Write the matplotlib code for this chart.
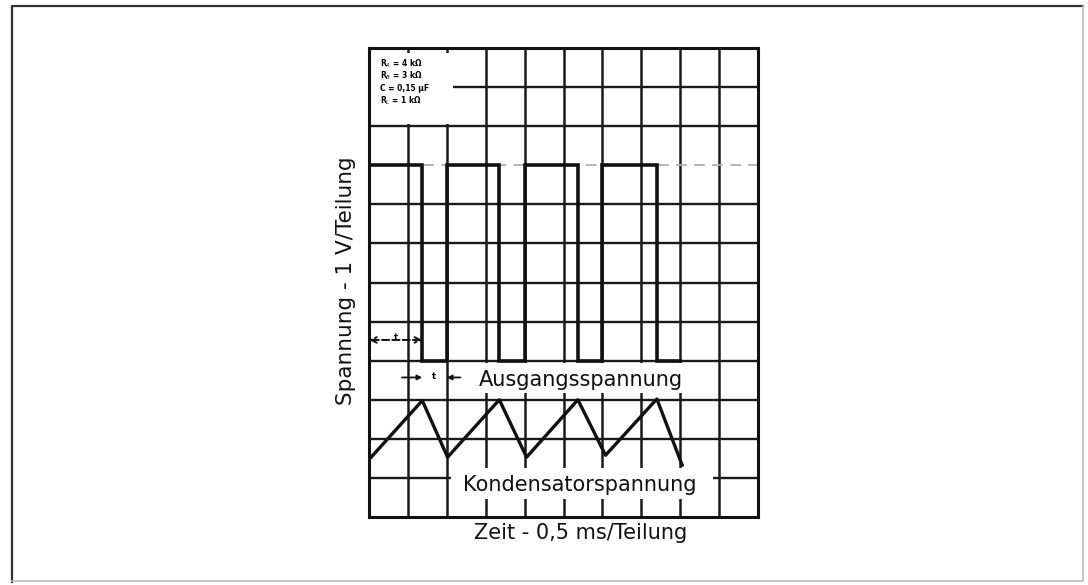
import matplotlib
matplotlib.use("Agg")
import matplotlib.pyplot as plt
from matplotlib.patches import Rectangle

# ---- data (divisions: x = 0.5 ms/div, y = 1 V/div) ----
out_t = [0.0, 1.37, 1.37, 2.0, 2.0, 3.35, 3.35, 4.0, 4.0, 5.37, 5.37, 6.0, 6.0, 7.40, 7.40, 8.0]
out_v = [9.0, 9.0, 4.0, 4.0, 9.0, 9.0, 4.0, 4.0, 9.0, 9.0, 4.0, 4.0, 9.0, 9.0, 4.0, 4.0]
cap_t = [0.0, 1.37, 2.02, 3.35, 4.05, 5.37, 6.08, 7.40, 8.05]
cap_v = [1.47, 2.98, 1.53, 3.0, 1.53, 3.0, 1.58, 3.02, 1.33]
params = ["R$_A$ = 4 kΩ", "R$_B$ = 3 kΩ", "C = 0,15 µF", "R$_L$ = 1 kΩ"]
x_divs = list(range(0, 11))
y_divs = list(range(0, 13))
xlabel = "Zeit - 0,5 ms/Teilung"
ylabel = "Spannung - 1 V/Teilung"
lbl_out = "Ausgangsspannung"
lbl_cap = "Kondensatorspannung"

plt.rcParams['font.family'] = ['DejaVu Sans']
fig = plt.figure(figsize=(10.88, 5.85), dpi=100)

# outer frame
frame = fig.add_axes([0, 0, 1, 1])
frame.set_xlim(0, 1088); frame.set_ylim(585, 0); frame.axis('off')
frame.plot([12, 12, 1083], [582, 6, 6], color='#333333', lw=1.6)
frame.plot([1083, 1083, 12], [6, 581, 581], color='#bbbbbb', lw=1.2)

ax = fig.add_axes([369/1088, 1-517/585, (758-369)/1088, (517-48)/585])
ax.set_xlim(0, 10); ax.set_ylim(0, 12)
ax.set_xticks([]); ax.set_yticks([])
for s in ax.spines.values():
    s.set_linewidth(2.2); s.set_color('#111111')

# grid
for x in x_divs[1:-1]:
    ax.axvline(x, color='#1a1a1a', lw=1.8, zorder=1)
for y in y_divs[1:-1]:
    if y == 9:
        ax.axhline(y, color='#b0b0b0', lw=1.3, ls=(0, (6, 4)), zorder=1)
    else:
        ax.axhline(y, color='#1a1a1a', lw=1.7, zorder=1)

# white masks (label boxes)
ax.add_patch(Rectangle((0.03, 10.05), 2.12, 1.83, facecolor='white', edgecolor='none', zorder=2))
ax.add_patch(Rectangle((2.15, 3.17), 6.35, 0.78, facecolor='white', edgecolor='none', zorder=2))
ax.add_patch(Rectangle((2.12, 0.45), 6.72, 0.80, facecolor='white', edgecolor='none', zorder=2))

# waves
ax.plot(out_t, out_v, color='#111111', lw=2.6, zorder=3, solid_joinstyle='miter')
ax.plot(cap_t, cap_v, color='#111111', lw=2.4, zorder=3)

# parameter text
for i, p in enumerate(params):
    ax.text(0.28, 11.6 - i * 0.32, p, fontsize=5.5, fontweight='bold', va='center', ha='left', zorder=4)

# t1 / t2 annotations
ax.annotate('', xy=(0.0, 4.53), xytext=(1.37, 4.53),
            arrowprops=dict(arrowstyle='<->', lw=1.4, ls='--', color='#111111', shrinkA=0, shrinkB=0), zorder=4)
ax.text(0.68, 4.6, 't', fontsize=6, ha='center', va='center', fontweight='bold', zorder=5)
ax.annotate('', xy=(1.37, 3.57), xytext=(0.85, 3.57),
            arrowprops=dict(arrowstyle='-|>', lw=1.3, color='#111111', shrinkA=0, shrinkB=0, mutation_scale=7), zorder=4)
ax.annotate('', xy=(2.0, 3.57), xytext=(2.35, 3.57),
            arrowprops=dict(arrowstyle='-|>', lw=1.3, color='#111111', shrinkA=0, shrinkB=0, mutation_scale=7), zorder=4)
ax.text(1.68, 3.6, 't', fontsize=6, ha='center', va='center', fontweight='bold', zorder=5)

ax.text(5.45, 3.5, lbl_out, fontsize=15, ha='center', va='center', color='#111111', zorder=5)
ax.text(5.42, 0.83, lbl_cap, fontsize=15, ha='center', va='center', color='#111111', zorder=5)
ax.text(5.45, -0.42, xlabel, fontsize=15, ha='center', va='center', color='#111111', clip_on=False)
ax.text(-0.58, 6.05, ylabel, fontsize=15.5, ha='center', va='center', rotation=90, color='#111111', clip_on=False)

fig.savefig("out.png", dpi=100)
